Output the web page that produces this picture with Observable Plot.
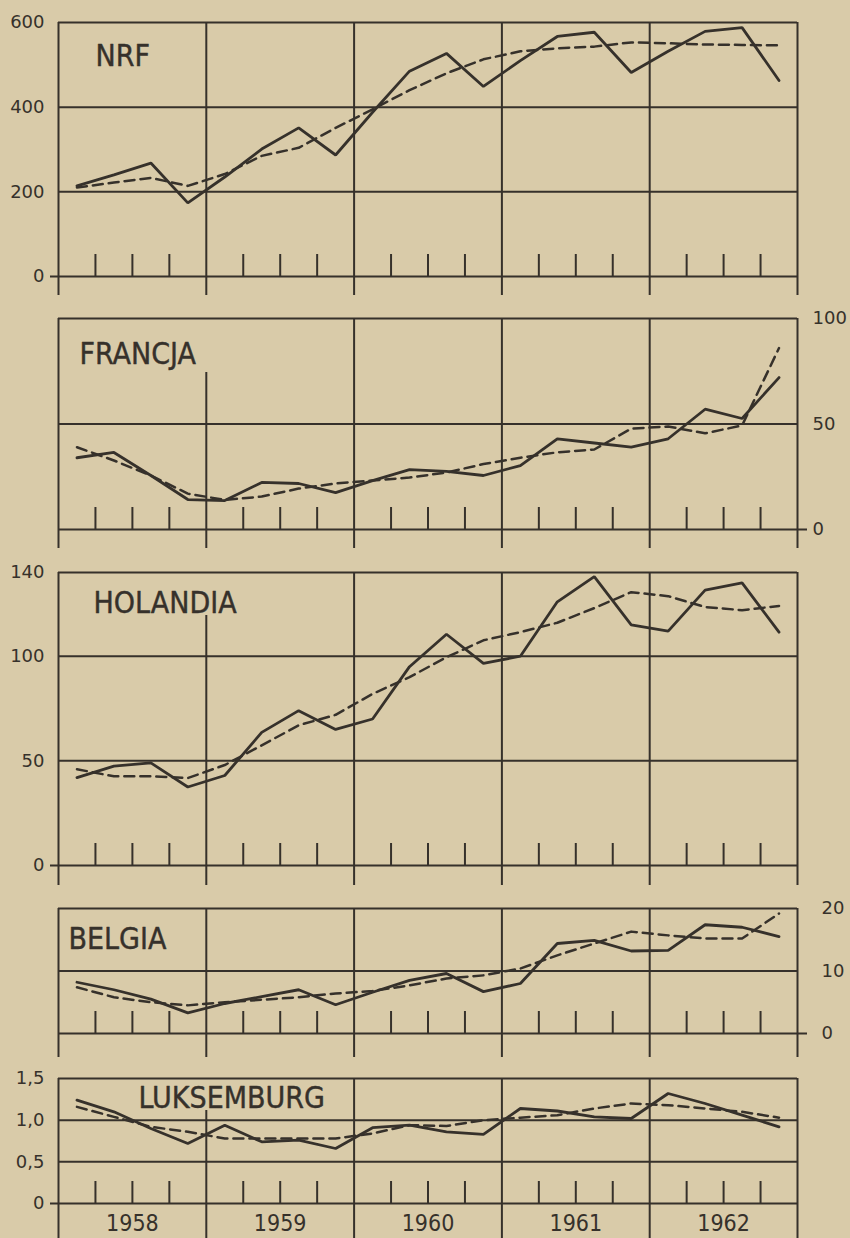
<!DOCTYPE html>
<html><head><meta charset="utf-8">
<script src="https://cdn.jsdelivr.net/npm/d3@7"></script>
<script src="https://cdn.jsdelivr.net/npm/@observablehq/plot@0.6"></script>
<style>
html,body{margin:0;padding:0;background:#d9cba9;}
#chart{position:relative;width:850px;height:1238px;overflow:hidden;background:#d9cba9;}
#chart svg{position:absolute;left:0;overflow:visible;}
</style></head><body><div id="chart"></div>
<script>
// ---- data (quarterly, 1958 Q1 .. 1962 Q4) ----
const years = ["1958", "1959", "1960", "1961", "1962"];

const nrfActual = [214, 240, 268, 174, 235, 301, 351, 287, 388, 485, 527, 449, 510, 567, 577, 482, 532, 579, 588, 463];
const nrfTrend  = [210, 222, 233, 214, 242, 285, 304, 351, 395, 440, 480, 513, 532, 539, 543, 553, 551, 548, 547, 546];

const francjaActual = [34, 36.5, 25.6, 14.2, 13.7, 22.3, 21.8, 17.5, 23.2, 28.4, 27.5, 25.6, 30.3, 43, 41, 39, 43, 57, 52.6, 72];
const francjaTrend  = [39, 32.7, 25.6, 17, 14, 15.6, 19.4, 21.8, 23.2, 24.6, 27, 31, 34, 36.6, 37.9, 47.8, 48.8, 45.6, 49.3, 86];

const holandiaActual = [42, 47.5, 49, 37.5, 43, 63.6, 74, 65, 70, 95, 110.5, 96.6, 100, 126, 138, 115, 112, 131.6, 135, 111.5];
const holandiaTrend  = [46, 42.6, 42.6, 41.8, 48, 57.4, 67, 72, 82, 90, 99.5, 107.6, 111.5, 116, 123, 130.6, 128.7, 123.5, 122, 124];

const belgiaActual = [8.2, 7.0, 5.5, 3.3, 4.8, 5.9, 7.0, 4.6, 6.6, 8.5, 9.6, 6.7, 8.0, 14.4, 14.9, 13.2, 13.3, 17.4, 17.0, 15.5];
const belgiaTrend  = [7.4, 5.8, 5.0, 4.5, 5.0, 5.4, 5.8, 6.4, 6.8, 7.7, 8.8, 9.3, 10.4, 12.5, 14.4, 16.3, 15.7, 15.2, 15.2, 19.2];

const luksActual = [1.24, 1.10, 0.90, 0.72, 0.94, 0.74, 0.76, 0.66, 0.91, 0.94, 0.86, 0.83, 1.14, 1.11, 1.04, 1.02, 1.32, 1.20, 1.06, 0.92];
const luksTrend  = [1.16, 1.04, 0.92, 0.86, 0.78, 0.78, 0.78, 0.78, 0.84, 0.94, 0.93, 1.00, 1.03, 1.06, 1.14, 1.20, 1.18, 1.14, 1.10, 1.03];

const nrfTicks = [0, 200, 400, 600];
const francjaTicks = [0, 50, 100];
const holandiaTicks = [0, 50, 100, 140];
const belgiaTicks = [0, 10, 20];
const luksTicks = [0, 0.5, 1.0, 1.5];
const luksTickLabels = ["0", "0,5", "1,0", "1,5"];

// ---- layout ----
const ink = "#36312b";
const W = 850, frameL = 58, frameR = 797;
const panels = [
  {name: "NRF", actual: nrfActual, trend: nrfTrend, max: 600, grid: [200, 400], ticks: nrfTicks, fmt: d => String(d),
   side: "left", svgTop: 0, svgBottom: 300, top: 22, zero: 276, bottom: 295, divTop: null, labelLeft: 95, labelBase: 65},
  {name: "FRANCJA", actual: francjaActual, trend: francjaTrend, max: 100, grid: [50], ticks: francjaTicks, fmt: d => String(d),
   side: "right", pad: 15, svgTop: 300, svgBottom: 556, top: 318, zero: 529, bottom: 548, divTop: 372, labelLeft: 79, labelBase: 363},
  {name: "HOLANDIA", actual: holandiaActual, trend: holandiaTrend, max: 140, grid: [50, 100], ticks: holandiaTicks, fmt: d => String(d),
   side: "left", svgTop: 556, svgBottom: 890, top: 572, zero: 865, bottom: 885, divTop: 615, labelLeft: 93, labelBase: 612},
  {name: "BELGIA", actual: belgiaActual, trend: belgiaTrend, max: 20, grid: [10], ticks: belgiaTicks, fmt: d => String(d),
   side: "right", pad: 24, svgTop: 890, svgBottom: 1062, top: 908, zero: 1033, bottom: 1057, divTop: null, labelLeft: 68, labelBase: 948},
  {name: "LUKSEMBURG", actual: luksActual, trend: luksTrend, max: 1.5, grid: [0.5, 1.0], ticks: luksTicks,
   fmt: d => luksTickLabels[luksTicks.indexOf(d)],
   side: "left", svgTop: 1062, svgBottom: 1238, top: 1078, zero: 1203, bottom: 1238, divTop: 1110, labelLeft: 138, labelBase: 1107, years: true}
];

const chart = document.getElementById("chart");
const qW = (frameR - frameL) / 20;
const condensed = "'DejaVu Sans Condensed', 'DejaVu Sans', sans-serif";

for (const p of panels) {
  const h = p.svgBottom - p.svgTop;
  const ppu = (p.zero - p.top) / p.max;          // pixels per unit
  const v = px => (p.zero - px) / ppu;           // page pixel -> value
  const yFrameBottom = v(p.bottom);
  const tickTop = 22 / ppu;
  const dividers = [0, 4, 8, 12, 16, 20].map(x => ({x, y1: yFrameBottom, y2: (x === 4 && p.divTop) ? v(p.divTop) : p.max}));
  const qTicks = d3.range(1, 20).filter(k => k % 4 !== 0);
  const pts = arr => arr.map((y, i) => ({x: i + 0.5, y}));

  const marks = [
    Plot.ruleY(p.grid, {stroke: ink, strokeWidth: 2}),
    Plot.ruleY([p.max], {stroke: ink, strokeWidth: 2}),
    Plot.ruleY([0], {stroke: ink, strokeWidth: 2,
      insetLeft: p.side === "left" ? -8 : 0, insetRight: p.side === "right" ? -10 : 0}),
    Plot.ruleX(dividers, {x: "x", y1: "y1", y2: "y2", stroke: ink, strokeWidth: 2}),
    Plot.ruleX(qTicks, {x: d => d, y1: 0, y2: tickTop, stroke: ink, strokeWidth: 2}),
    Plot.line(pts(p.trend), {x: "x", y: "y", stroke: ink, strokeWidth: 2.5, strokeDasharray: "10,6"}),
    Plot.line(pts(p.actual), {x: "x", y: "y", stroke: ink, strokeWidth: 2.8, strokeLinejoin: "miter"}),
    Plot.text([p.name], {x: (p.labelLeft - frameL) / qW, y: v(p.labelBase), text: d => d,
      textAnchor: "start", lineAnchor: "bottom", fontSize: 30, fontFamily: condensed, fill: ink,
      stroke: ink, strokeWidth: 0.4}),
    Plot.axisY(p.ticks, {anchor: p.side, tickSize: 0, tickPadding: p.side === "left" ? 14 : p.pad,
      tickFormat: p.fmt, fontSize: 18, fontFamily: "'DejaVu Sans', sans-serif", fill: ink, label: null,
      textAnchor: p.side === "left" ? "end" : "start"})
  ];
  if (p.years) {
    marks.push(Plot.axisX([2, 6, 10, 14, 18], {anchor: "bottom", tickSize: 0, tickPadding: 11, label: null,
      tickFormat: d => years[(d - 2) / 4], fontSize: 23, fontFamily: condensed, fill: ink}));
  }

  const svg = Plot.plot({
    width: W, height: h,
    marginLeft: frameL, marginRight: W - frameR,
    marginTop: p.top - p.svgTop, marginBottom: p.svgBottom - p.zero,
    x: {domain: [0, 20], ...(p.years ? {} : {axis: null})},
    y: {domain: [0, p.max]},
    style: {background: "transparent", color: ink, overflow: "visible"},
    marks
  });
  svg.style.top = p.svgTop + "px";
  chart.appendChild(svg);
}
</script></body></html>
